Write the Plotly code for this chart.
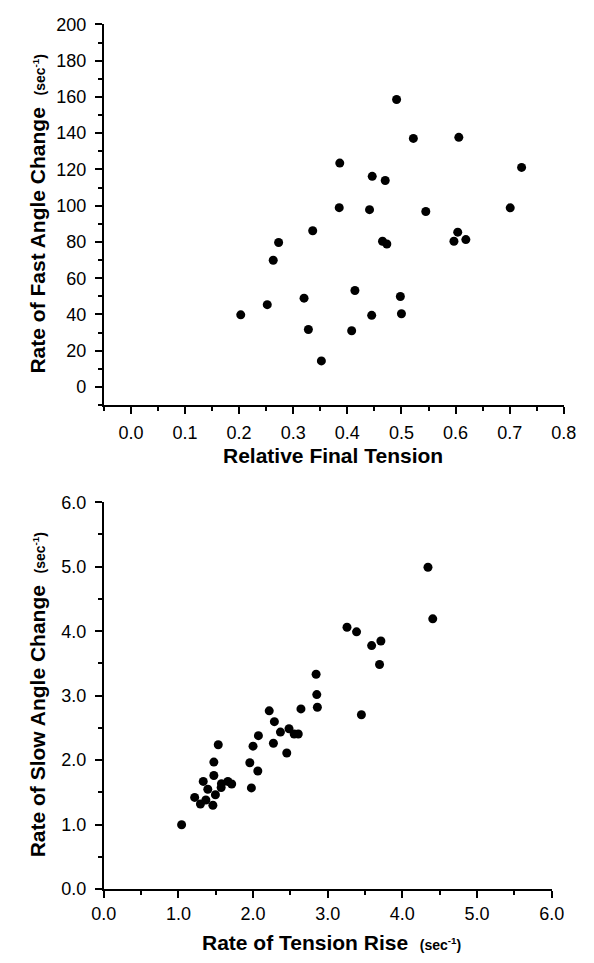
import plotly.graph_objects as go

# Top panel: Relative Final Tension vs Rate of Fast Angle Change
rel_tension = [0.491, 0.522, 0.606, 0.386, 0.446, 0.470, 0.385, 0.441, 0.545,
               0.722, 0.701, 0.336, 0.273, 0.465, 0.473, 0.604, 0.597, 0.619,
               0.263, 0.414, 0.498, 0.320, 0.252, 0.203, 0.445, 0.500, 0.328,
               0.408, 0.352]
fast_rate = [158.6, 137.1, 137.7, 123.5, 116.2, 113.9, 98.9, 97.8, 96.8,
             121.1, 98.8, 86.2, 79.7, 80.4, 78.9, 85.4, 80.4, 81.3,
             69.9, 53.2, 49.9, 49.0, 45.4, 39.8, 39.5, 40.4, 31.7,
             31.0, 14.4]

# Bottom panel: Rate of Tension Rise vs Rate of Slow Angle Change
tension_rise = [4.343, 4.407, 3.258, 3.386, 3.588, 3.712, 3.694, 3.451,
                2.844, 2.853, 2.861, 2.641, 2.216, 2.285, 2.481, 2.366,
                2.550, 2.605, 2.071, 2.272, 1.533, 1.999, 2.451, 1.474,
                1.956, 2.063, 1.474, 1.332, 1.662, 1.713, 1.576, 1.572,
                1.393, 1.495, 1.977, 1.217, 1.367, 1.294, 1.461, 1.042]
slow_rate = [4.992, 4.192, 4.061, 3.990, 3.777, 3.848, 3.483, 2.703,
             3.332, 3.017, 2.820, 2.794, 2.764, 2.597, 2.486, 2.435,
             2.405, 2.405, 2.379, 2.262, 2.238, 2.217, 2.110, 1.969,
             1.959, 1.832, 1.761, 1.670, 1.670, 1.630, 1.635, 1.574,
             1.548, 1.463, 1.569, 1.422, 1.381, 1.320, 1.300, 0.997]

W, H = 594, 963
FONT = "Liberation Sans, Arial, Helvetica, sans-serif"

fig = go.Figure()
fig.add_trace(go.Scatter(x=rel_tension, y=fast_rate, mode="markers",
                         marker=dict(color="black", size=9),
                         xaxis="x", yaxis="y", hoverinfo="x+y"))
fig.add_trace(go.Scatter(x=tension_rise, y=slow_rate, mode="markers",
                         marker=dict(color="black", size=9),
                         xaxis="x2", yaxis="y2", hoverinfo="x+y"))

axis_common = dict(showline=True, linecolor="black", linewidth=2,
                   ticks="outside", ticklen=7, tickwidth=1.8, tickcolor="black",
                   showgrid=False, zeroline=False,
                   tickfont=dict(family=FONT, size=18, color="black"))


def minor(dt):
    return dict(dtick=dt, ticklen=4, tickwidth=1.8, tickcolor="black",
                ticks="outside")


fig.update_layout(
    width=W, height=H,
    margin=dict(l=0, r=0, t=0, b=0),
    paper_bgcolor="white", plot_bgcolor="white",
    showlegend=False,
    xaxis=dict(domain=[95 / W, 576 / W], range=[-0.05, 0.8],
               tick0=0, dtick=0.1, tickformat=".1f", anchor="y",
               minor=minor(0.05), ticklabelstandoff=3, **axis_common),
    yaxis=dict(domain=[1 - 403.5 / H, 1 - 14.7 / H], range=[-10, 200],
               tick0=0, dtick=20, anchor="x",
               minor=minor(10), ticklabelstandoff=5, **axis_common),
    xaxis2=dict(domain=[95 / W, 563.3 / W], range=[0, 6],
                tick0=0, dtick=1, tickformat=".1f", anchor="y2",
                minor=minor(0.5), **axis_common),
    yaxis2=dict(domain=[1 - 897.7 / H, 1 - 502.7 / H], range=[0, 6],
                tick0=0, dtick=1, tickformat=".1f", anchor="x2",
                minor=minor(0.5), ticklabelstandoff=5, **axis_common),
)

unit = "<span style='font-size:14px'><b>(sec<sup>-1</sup>)</b></span>"
title_font = dict(family=FONT, size=21, color="black")
annotations = [
    dict(text="<b>Relative Final Tension</b>", x=335 / W, y=1 - 455 / H,
         xref="paper", yref="paper", showarrow=False,
         xanchor="center", yanchor="middle", font=title_font),
    dict(text="<b>Rate of Tension Rise</b>&nbsp;&nbsp;" + unit,
         x=333 / W, y=1 - 952 / H,
         xref="paper", yref="paper", showarrow=False,
         xanchor="center", yanchor="middle", font=title_font),
    dict(text="<b>Rate of Fast Angle Change</b>&nbsp;&nbsp;" + unit,
         x=26 / W, y=1 - 208 / H, textangle=-90,
         xref="paper", yref="paper", showarrow=False,
         xanchor="center", yanchor="middle", font=title_font),
    dict(text="<b>Rate of Slow Angle Change</b>&nbsp;&nbsp;" + unit,
         x=26 / W, y=1 - 699 / H, textangle=-90,
         xref="paper", yref="paper", showarrow=False,
         xanchor="center", yanchor="middle", font=title_font),
]
fig.update_layout(annotations=annotations)

fig.write_html("out.html",
               config={"displayModeBar": False},
               post_script="document.body.style.margin='0';"
                           "document.body.style.overflow='hidden';")
